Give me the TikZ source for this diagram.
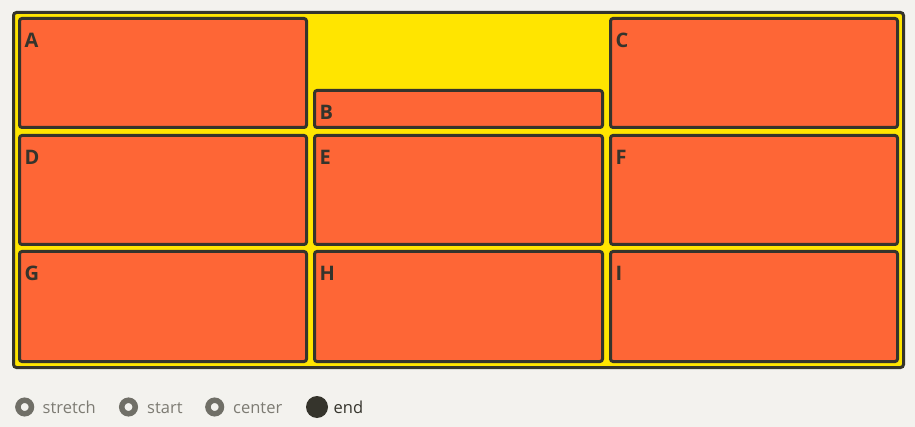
\documentclass[tikz,border=0pt]{standalone}
\usepackage{fontspec}
\setmainfont{Open Sans}
\definecolor{bgc}{HTML}{F3F2EE}
\definecolor{yel}{HTML}{FFE500}
\definecolor{org}{HTML}{FE6636}
\definecolor{ink}{HTML}{35342C}
\definecolor{ringc}{HTML}{706F67}
\definecolor{txtg}{HTML}{7D7B73}
\tikzset{
  cell/.style={draw=ink, fill=org, line width=3pt, rounded corners=2.5pt, rectangle, inner sep=0pt, outer sep=0pt, anchor=north west},
  lbl/.style={font=\fontsize{20}{20}\selectfont\bfseries, text=ink, inner sep=0pt, anchor=base west},
  ring/.style={draw=ringc, line width=5.5pt, circle, inner sep=0pt, outer sep=0pt, minimum size=13.5pt},
  dot/.style={fill=ink, circle, inner sep=0pt, outer sep=0pt, minimum size=22pt},
  legtxt/.style={font=\fontsize{16.5}{16.5}\selectfont, text=txtg, inner sep=0pt, anchor=base west}
}
\begin{document}
\begin{tikzpicture}[x=1pt,y=-1pt]
\fill[bgc] (0,0) rectangle (915,427);
\useasboundingbox (0,0) rectangle (915,427);
\node[draw=ink, fill=yel, line width=3pt, rounded corners=3pt, rectangle, inner sep=0pt, outer sep=0pt, anchor=north west, minimum width=890pt, minimum height=355pt] (cont) at (13.5,12.5) {};
% row 1
\node[cell, minimum width=287pt, minimum height=109pt] (A) at (19.5,18.5) {};
\node[cell, minimum width=288pt, minimum height=37pt] (B) at (314.5,90.5) {};
\node[cell, minimum width=287pt, minimum height=109pt] (C) at (610.5,18.5) {};
% row 2
\node[cell, minimum width=287pt, minimum height=109pt] (D) at (19.5,135.5) {};
\node[cell, minimum width=288pt, minimum height=109pt] (E) at (314.5,135.5) {};
\node[cell, minimum width=287pt, minimum height=109pt] (F) at (610.5,135.5) {};
% row 3
\node[cell, minimum width=287pt, minimum height=110pt] (G) at (19.5,251.5) {};
\node[cell, minimum width=288pt, minimum height=110pt] (H) at (314.5,251.5) {};
\node[cell, minimum width=287pt, minimum height=110pt] (I) at (610.5,251.5) {};
% labels
\foreach \n in {A,B,C,D,E,F,G,H,I}{
  \node[lbl] (l\n) at ([shift={(5,29.5)}]\n.north west) {\n};
}
% legend
\node[ring] (r1) at (24.7,407) {};
\node[legtxt] (t1) at (42.5,413.5) {stretch};
\node[ring] (r2) at (128.5,407) {};
\node[legtxt] (t2) at (147,413.5) {start};
\node[ring] (r3) at (214.7,407) {};
\node[legtxt] (t3) at (233,413.5) {center};
\node[dot] (r4) at (317,407) {};
\node[legtxt, text=ink] (t4) at (333.5,413.5) {end};
\end{tikzpicture}
\end{document}
